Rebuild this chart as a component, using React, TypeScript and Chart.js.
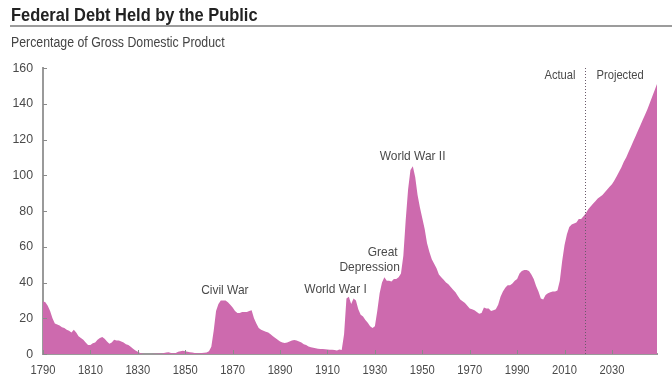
import { useEffect, useRef } from 'react';
import { Chart, registerables } from 'chart.js';

Chart.register(...registerables);

const TITLE = 'Federal Debt Held by the Public';
const SUBTITLE = 'Percentage of Gross Domestic Product';

const firstYear = 1790;
// Debt held by the public, % of GDP, one value per year 1790–2049 (actual to 2019, projected after)
const debtPct = [
  29.5, 29, 27, 24, 20, 17, 16.5, 16, 15, 14.5,
  13.5, 13, 12, 13.5, 12, 10, 9, 8, 6.5, 5,
  5, 6, 6.5, 8, 9, 9.5, 8.5, 7, 5.8, 6.5,
  8, 7.5, 7.5, 7, 6.5, 5.5, 5, 4, 3, 2,
  1.3, 0.6, 0.2, 0, 0, 0, 0, 0.1, 0.2, 0.3,
  0.2, 0.5, 0.8, 1, 0.6, 0.4, 0.5, 1.2, 1.6, 1.8,
  1.6, 1.3, 1, 0.9, 0.6, 0.4, 0.4, 0.5, 0.7, 0.8,
  1.5, 4, 13, 24, 28, 30, 30, 30, 29, 27.5,
  26, 24, 23, 23, 23.5, 23.5, 23.5, 24, 24.5, 20,
  17, 14.5, 13.5, 13, 12.5, 12, 11, 10, 9, 8,
  7, 6.5, 6.2, 6.5, 7, 7.5, 7.8, 7.5, 7, 6.5,
  5.5, 5, 4.2, 3.8, 3.5, 3.2, 3, 2.8, 2.8, 2.7,
  2.5, 2.4, 2.4, 2.2, 2, 2.5, 2.2, 11, 31, 32,
  28, 31, 30, 25, 22, 21, 19, 17.5, 15.5, 14.5,
  15.5, 24, 34, 40, 43, 41, 41, 40.5, 42, 42,
  43, 45, 55, 75, 92, 103, 105, 99, 89, 82,
  76, 70, 62, 57, 53, 50.5, 48, 44.5, 43, 41.5,
  40, 39, 37.5, 36, 34.5, 32.5, 30.5, 29.5, 28.5, 27,
  25.5, 25, 24.5, 23.5, 22.5, 23, 26, 25.5, 25.5, 24,
  24.5, 25, 27.5, 32, 35, 37, 38.5, 38.5, 39.5, 41,
  42, 45, 46.5, 47, 47, 46.5, 44.5, 42, 38, 35,
  31, 30.5, 33, 34, 34.5, 35, 35, 35.5, 41, 52,
  61, 67, 71, 72.5, 73, 73.5, 75.5, 75.5, 77, 78.8,
  81, 82.5, 84, 85.5, 87, 88, 89, 90.5, 92, 93.5,
  95, 97, 99.5, 102, 104.5, 107.5, 110, 113, 116, 119,
  122, 125, 128, 131, 134, 137, 140.5, 144, 147.5, 151,
];
const years = debtPct.map((_, i) => firstYear + i);
const lastYear = years[years.length - 1];

const xTickYears = [1790, 1810, 1830, 1850, 1870, 1890, 1910, 1930, 1950, 1970, 1990, 2010, 2030];
const yTickValues = [0, 20, 40, 60, 80, 100, 120, 140, 160];

const projectionStartYear = 2018.7;
const actualLabel = 'Actual';
const projectedLabel = 'Projected';

const eventLabels = [
  { text: 'Civil War', year: 1866.7, value: 35.4 },
  { text: 'World War I', year: 1913.4, value: 36.4 },
  { text: 'Great', year: 1933.3, value: 56.7 },
  { text: 'Depression', year: 1927.8, value: 48.7 },
  { text: 'World War II', year: 1945.9, value: 110.3 },
];

const FILL = '#CD6AAE';
const AXIS = '#9a9a9a';
const TEXT = '#4a4a4a';
const FONT_FAMILY = '"Liberation Sans", Arial, sans-serif';

// draw text horizontally condensed (the source uses a narrow typeface)
function narrowText(ctx: CanvasRenderingContext2D, text: string, x: number, y: number, sx: number) {
  ctx.save();
  ctx.translate(x, y);
  ctx.scale(sx, 1);
  ctx.fillText(text, 0, 0);
  ctx.restore();
}

const decorPlugin = {
  id: 'decor',
  afterDraw(chart: any) {
    const { ctx, chartArea, scales } = chart;
    const x = scales.x;
    const y = scales.y;
    ctx.save();

    // Title and rule
    ctx.fillStyle = '#222';
    ctx.textAlign = 'left';
    ctx.textBaseline = 'alphabetic';
    ctx.font = `bold 19px ${FONT_FAMILY}`;
    narrowText(ctx, TITLE, 11, 21, 0.865);
    ctx.fillStyle = '#9c9c9c';
    ctx.fillRect(10, 25, 662, 2);
    ctx.fillStyle = '#444';
    ctx.font = `14px ${FONT_FAMILY}`;
    narrowText(ctx, SUBTITLE, 11, 47, 0.88);

    // inward tick marks
    ctx.strokeStyle = '#8a8a8a';
    ctx.lineWidth = 1;
    ctx.beginPath();
    yTickValues.forEach((v) => {
      const py = Math.round(y.getPixelForValue(v)) + 0.5;
      ctx.moveTo(chartArea.left, py);
      ctx.lineTo(chartArea.left + 4, py);
    });
    xTickYears.forEach((v) => {
      const px = Math.round(x.getPixelForValue(v)) + 0.5;
      ctx.moveTo(px, chartArea.bottom);
      ctx.lineTo(px, chartArea.bottom - 4);
    });
    ctx.stroke();

    // tick labels
    ctx.fillStyle = TEXT;
    ctx.font = `13px ${FONT_FAMILY}`;
    ctx.textBaseline = 'middle';
    ctx.textAlign = 'right';
    yTickValues.forEach((v) => {
      narrowText(ctx, String(v), chartArea.left - 10, y.getPixelForValue(v), 0.95);
    });
    ctx.textAlign = 'center';
    xTickYears.forEach((v) => {
      narrowText(ctx, String(v), x.getPixelForValue(v), chartArea.bottom + 16, 0.86);
    });

    // Actual / Projected divider
    const lx = Math.round(x.getPixelForValue(projectionStartYear)) + 0.5;
    ctx.strokeStyle = '#6a5a6a';
    ctx.setLineDash([1, 2]);
    ctx.beginPath();
    ctx.moveTo(lx, chartArea.top);
    ctx.lineTo(lx, chartArea.bottom);
    ctx.stroke();
    ctx.setLineDash([]);

    ctx.fillStyle = TEXT;
    ctx.font = `13px ${FONT_FAMILY}`;
    ctx.textBaseline = 'middle';
    const ly = y.getPixelForValue(155.8);
    ctx.textAlign = 'right';
    narrowText(ctx, actualLabel, lx - 10, ly, 0.86);
    ctx.textAlign = 'left';
    narrowText(ctx, projectedLabel, lx + 11, ly, 0.86);

    // Event labels
    ctx.font = `13px ${FONT_FAMILY}`;
    ctx.textAlign = 'center';
    eventLabels.forEach((a) => {
      narrowText(ctx, a.text, x.getPixelForValue(a.year), y.getPixelForValue(a.value), 0.92);
    });

    ctx.restore();
  },
};

export default function App() {
  const canvasRef = useRef<HTMLCanvasElement | null>(null);

  useEffect(() => {
    document.body.style.margin = '0';
    const canvas = canvasRef.current;
    if (!canvas) return;
    const chart = new Chart(canvas, {
      type: 'line',
      data: {
        datasets: [
          {
            data: years.map((yr, i) => ({ x: yr, y: debtPct[i] })),
            backgroundColor: FILL,
            borderColor: FILL,
            borderWidth: 0,
            pointRadius: 0,
            fill: 'origin',
            tension: 0,
          },
        ],
      },
      options: {
        animation: false,
        responsive: false,
        maintainAspectRatio: false,
        layout: { padding: { top: 68, right: 15, left: 0, bottom: 0 } },
        plugins: {
          legend: { display: false },
          tooltip: { enabled: false },
          title: { display: false },
        },
        scales: {
          x: {
            type: 'linear',
            min: firstYear,
            max: lastYear,
            afterBuildTicks: (s: any) => {
              s.ticks = xTickYears.map((v) => ({ value: v }));
            },
            afterFit: (s: any) => {
              s.height = 37;
            },
            grid: { display: false },
            border: { display: true, color: AXIS, width: 2 },
            ticks: { display: false },
          },
          y: {
            min: 0,
            max: 160,
            afterBuildTicks: (s: any) => {
              s.ticks = yTickValues.map((v) => ({ value: v }));
            },
            afterFit: (s: any) => {
              s.width = 43;
            },
            grid: { display: false },
            border: { display: true, color: AXIS, width: 2 },
            ticks: { display: false },
          },
        },
      },
      plugins: [decorPlugin],
    });
    return () => chart.destroy();
  }, []);

  return (
    <div style={{ position: 'fixed', left: 0, top: 0, width: 672, height: 391 }}>
      <canvas ref={canvasRef} width={672} height={391} style={{ width: 672, height: 391 }} />
    </div>
  );
}
